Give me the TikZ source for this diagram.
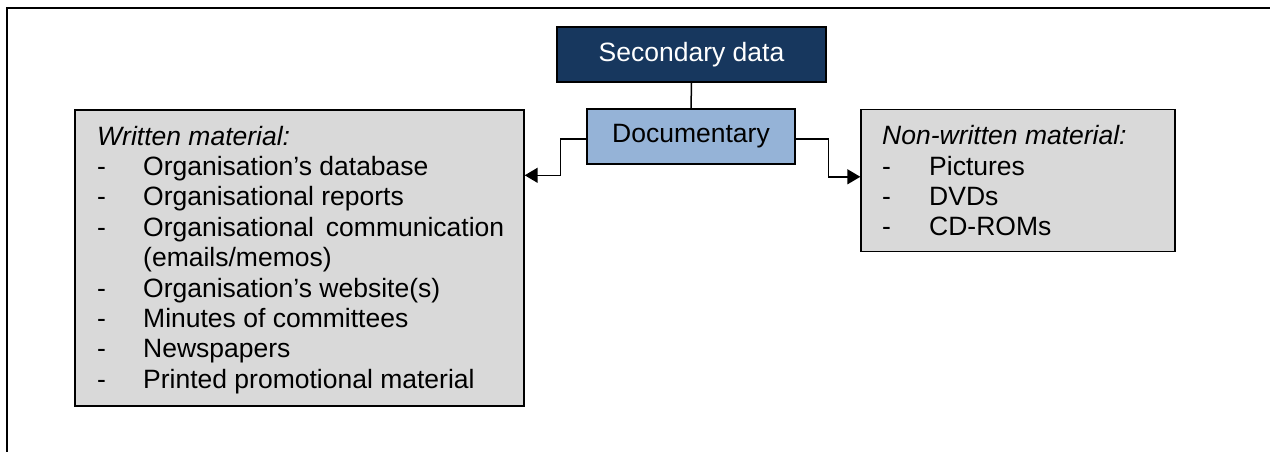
\documentclass[tikz,border=0pt]{standalone}
\usepackage{fontspec}
\setmainfont{Liberation Sans}
\usetikzlibrary{arrows.meta}
\definecolor{navy}{HTML}{17375E}
\definecolor{docblue}{HTML}{95B3D7}
\definecolor{boxgray}{HTML}{D9D9D9}
\begin{document}
\begin{tikzpicture}[x=1pt,y=-1pt,
  font=\fontsize{26.5}{30.4}\selectfont,
  box/.style={draw=black, line width=1.4pt, inner sep=0pt, rectangle},
  conn/.style={line width=1.5pt},
  arr/.style={conn, -{Triangle[length=13pt,width=15pt]}},
  txt/.style={inner sep=0pt, anchor=base west},
  head/.style={txt, font=\fontsize{26.5}{30.4}\selectfont\itshape}]

\useasboundingbox (0,0) rectangle (1270,452);
% page frame
\draw[line width=1.6pt] (1270,8) -- (7,8) -- (7,452);

% boxes
\node[box, fill=navy, text=white, minimum width=269pt, minimum height=55pt] (sec) at (691.5,54.5) {Secondary data};
\node[box, fill=docblue, minimum width=208pt, minimum height=55pt] (doc) at (691,136.5) {Documentary};
\node[box, fill=boxgray, minimum width=449pt, minimum height=296pt] (written) at (299.5,258) {};
\node[box, fill=boxgray, minimum width=314pt, minimum height=142pt] (nonwritten) at (1018,180.5) {};

% written material list
\node[head] (w0) at (97,145) {Written material:};
\node[txt] (wd1) at (97,175.4) {-};
\node[txt] (w1) at (143,175.4) {Organisation’s database};
\node[txt] (wd2) at (97,205.8) {-};
\node[txt] (w2) at (143,205.8) {Organisational reports};
\node[txt] (wd3) at (97,236.2) {-};
\node[txt] (w3) at (143,236.2) {Organisational\hspace{0.45em}communication};
\node[txt] (w4) at (143,266.6) {(emails/memos)};
\node[txt] (wd5) at (97,297) {-};
\node[txt] (w5) at (143,297) {Organisation’s website(s)};
\node[txt] (wd6) at (97,327.4) {-};
\node[txt] (w6) at (143,327.4) {Minutes of committees};
\node[txt] (wd7) at (97,357.8) {-};
\node[txt] (w7) at (143,357.8) {Newspapers};
\node[txt] (wd8) at (97,388.2) {-};
\node[txt] (w8) at (143,388.2) {Printed promotional material};

% non-written material list
\node[head] (n0) at (882,144.5) {Non-written material:};
\node[txt] (nd1) at (882,175) {-};
\node[txt] (n1) at (929,175) {Pictures};
\node[txt] (nd2) at (882,205.4) {-};
\node[txt] (n2) at (929,205.4) {DVDs};
\node[txt] (nd3) at (882,235.8) {-};
\node[txt] (n3) at (929,235.8) {CD-ROMs};

% connectors
\draw[conn] (sec.south) -- (doc.north);
\draw[arr] ([yshift=-2.5pt]doc.west) -- ++(-26,0) |- ([yshift=-66pt]written.north east);
\draw[arr] ([yshift=-2.5pt]doc.east) -- ++(33,0) |- ([yshift=-68pt]nonwritten.north west);
\end{tikzpicture}
\end{document}
